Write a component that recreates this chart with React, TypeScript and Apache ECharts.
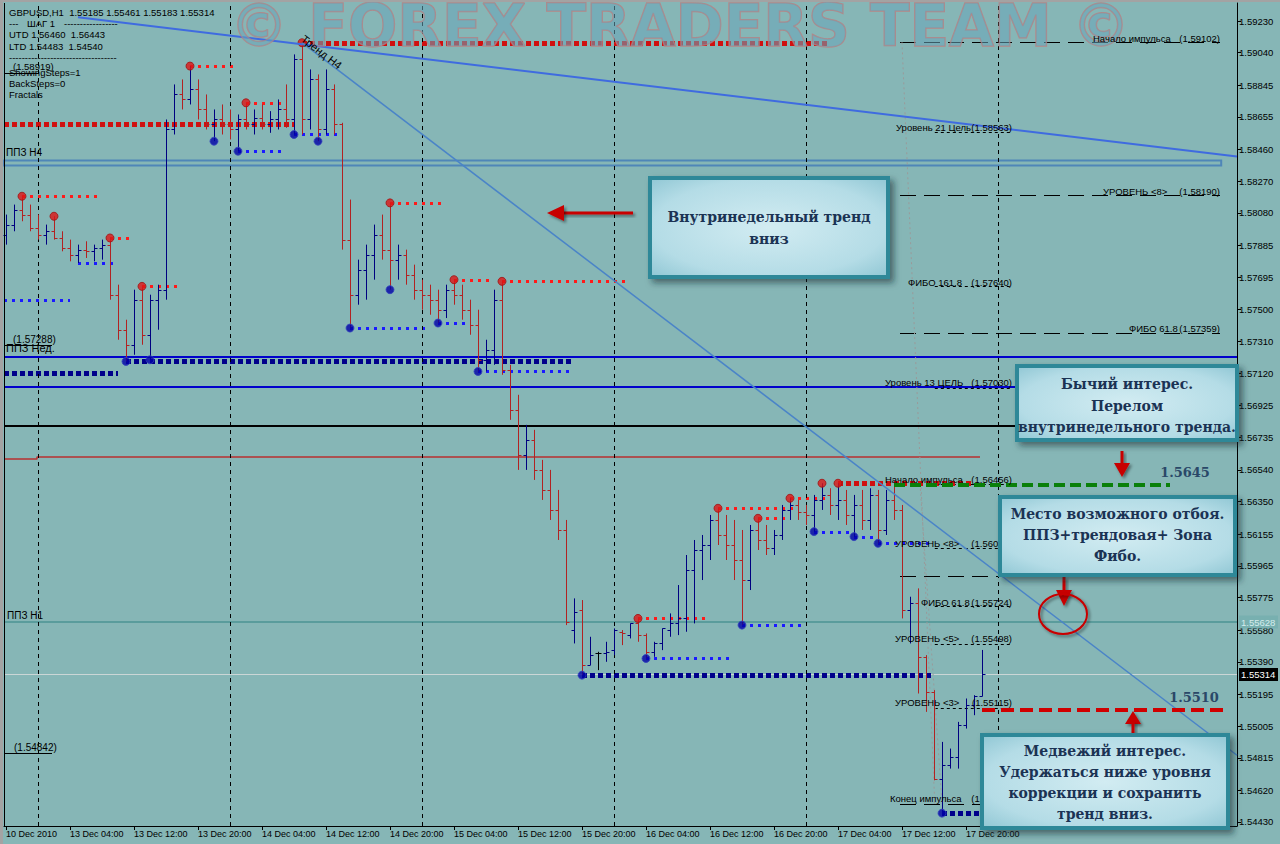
import React, { useEffect, useRef } from 'react';
import * as echarts from 'echarts';

// ---------- axes ----------
const xLabels = ['10 Dec 2010', '13 Dec 04:00', '13 Dec 12:00', '13 Dec 20:00', '14 Dec 04:00', '14 Dec 12:00', '14 Dec 20:00', '15 Dec 04:00', '15 Dec 12:00', '15 Dec 20:00', '16 Dec 04:00', '16 Dec 12:00', '16 Dec 20:00', '17 Dec 04:00', '17 Dec 12:00', '17 Dec 20:00'];
const xLabelStep = 8;
const yTickValues = [1.5923, 1.5904, 1.58845, 1.58655, 1.5846, 1.5827, 1.5808, 1.57885, 1.57695, 1.575, 1.5731, 1.5712, 1.56925, 1.56735, 1.5654, 1.5635, 1.56155, 1.55965, 1.55775, 1.5558, 1.5539, 1.55195, 1.55005, 1.54815, 1.5462, 1.5443];
const yMin = 1.54406;
const yMax = 1.59338;
const xMin = -0.25;
const xMax = 153.875;
const daySeparators = [4, 28, 52, 76, 100, 124];

// ---------- GBPUSD H1 bars ----------
const opens = [
  1.5795, 1.5801, 1.5810, 1.5807, 1.5799, 1.5795, 1.5797, 1.5793, 1.5787, 1.5783,
  1.5786, 1.5785, 1.5787, 1.5789, 1.5759, 1.5738, 1.5729, 1.5756, 1.5735, 1.5756,
  1.5762, 1.5858, 1.5879, 1.5876, 1.5882, 1.5870, 1.5861, 1.5864, 1.5861, 1.5858,
  1.5864, 1.5861, 1.5865, 1.5861, 1.5864, 1.5870, 1.5864, 1.5900, 1.5864, 1.5888,
  1.5858, 1.5882, 1.5861, 1.5792, 1.5759, 1.5774, 1.5783, 1.5795, 1.5786, 1.5780,
  1.5783, 1.5771, 1.5762, 1.5759, 1.5756, 1.5750, 1.5762, 1.5759, 1.5750, 1.5741,
  1.5720, 1.5726, 1.5756, 1.5714, 1.5690, 1.5663, 1.5672, 1.5654, 1.5642, 1.5630,
  1.5618, 1.5558, 1.5570, 1.5537, 1.5544, 1.5544, 1.5546, 1.5557, 1.5555, 1.5562,
  1.5555, 1.5545, 1.5550, 1.5558, 1.5562, 1.5565, 1.5594, 1.5606, 1.5609, 1.5624,
  1.5615, 1.5609, 1.5600, 1.5588, 1.5618, 1.5612, 1.5607, 1.5615, 1.5630, 1.5633,
  1.5629, 1.5627, 1.5636, 1.5639, 1.5633, 1.5636, 1.5627, 1.5633, 1.5624, 1.5639,
  1.5618, 1.5636, 1.5630, 1.5570, 1.5574, 1.5542, 1.5521, 1.5469, 1.5477, 1.5482,
  1.5501, 1.5513, 1.55185,
];
const highs = [
  1.5807, 1.5813, 1.5818, 1.5813, 1.5807, 1.5801, 1.5806, 1.5797, 1.5792, 1.5789,
  1.5791, 1.5789, 1.5792, 1.5793, 1.5765, 1.5744, 1.5762, 1.5764, 1.5759, 1.5765,
  1.5864, 1.5885, 1.5888, 1.5896, 1.5888, 1.5879, 1.5870, 1.5873, 1.5870, 1.5867,
  1.5874, 1.5870, 1.5873, 1.5869, 1.5876, 1.5885, 1.5903, 1.5910, 1.5894, 1.5891,
  1.5894, 1.5885, 1.5862, 1.5816, 1.5780, 1.5789, 1.5801, 1.5807, 1.5814, 1.5789,
  1.5786, 1.5777, 1.5768, 1.5765, 1.5762, 1.5765, 1.5768, 1.5765, 1.5756, 1.5750,
  1.5732, 1.5762, 1.5767, 1.5717, 1.5699, 1.5681, 1.5678, 1.5660, 1.5654, 1.5642,
  1.5624, 1.5577, 1.5576, 1.5554, 1.5545, 1.5551, 1.5559, 1.5558, 1.5562, 1.5565,
  1.5556, 1.5551, 1.5559, 1.5568, 1.5585, 1.5603, 1.5612, 1.5615, 1.5627, 1.5631,
  1.5627, 1.5624, 1.5618, 1.5621, 1.5625, 1.5621, 1.5618, 1.5633, 1.5637, 1.5636,
  1.5633, 1.5639, 1.5646, 1.5643, 1.5646, 1.5642, 1.5639, 1.5642, 1.5643, 1.5642,
  1.5642, 1.5645, 1.5633, 1.5578, 1.5583, 1.5543, 1.5522, 1.5491, 1.5487, 1.5503,
  1.5517, 1.5519, 1.55461,
];
const lows = [
  1.5789, 1.5797, 1.5803, 1.5797, 1.5792, 1.5789, 1.5792, 1.5785, 1.5779, 1.5778,
  1.5781, 1.5779, 1.5780, 1.5756, 1.5732, 1.5719, 1.5723, 1.5729, 1.5720, 1.5738,
  1.5756, 1.5855, 1.5870, 1.5873, 1.5864, 1.5858, 1.5851, 1.5855, 1.5852, 1.5845,
  1.5858, 1.5855, 1.5858, 1.5856, 1.5858, 1.5859, 1.5855, 1.5855, 1.5858, 1.5851,
  1.5855, 1.5855, 1.5786, 1.5739, 1.5753, 1.5756, 1.5768, 1.5780, 1.5762, 1.5768,
  1.5765, 1.5756, 1.5750, 1.5747, 1.5742, 1.5745, 1.5753, 1.5744, 1.5735, 1.5713,
  1.5713, 1.5717, 1.5711, 1.5684, 1.5654, 1.5654, 1.5648, 1.5636, 1.5624, 1.5612,
  1.5561, 1.5550, 1.5531, 1.5537, 1.5534, 1.5539, 1.5543, 1.5549, 1.5553, 1.5551,
  1.5541, 1.5542, 1.5546, 1.5554, 1.5555, 1.5557, 1.5562, 1.5588, 1.5600, 1.5609,
  1.5600, 1.5588, 1.5561, 1.5582, 1.5606, 1.5603, 1.5603, 1.5612, 1.5624, 1.5624,
  1.5621, 1.5617, 1.5630, 1.5627, 1.5624, 1.5621, 1.5614, 1.5618, 1.5618, 1.5610,
  1.5615, 1.5624, 1.5565, 1.5550, 1.5520, 1.5509, 1.5468, 1.54483, 1.5475, 1.5475,
  1.5499, 1.5507, 1.55183,
];
const closes = [
  1.5801, 1.5810, 1.5807, 1.5799, 1.5795, 1.5797, 1.5793, 1.5787, 1.5783, 1.5786,
  1.5785, 1.5787, 1.5789, 1.5759, 1.5738, 1.5729, 1.5756, 1.5735, 1.5756, 1.5762,
  1.5858, 1.5879, 1.5876, 1.5882, 1.5870, 1.5861, 1.5864, 1.5861, 1.5858, 1.5864,
  1.5861, 1.5865, 1.5861, 1.5864, 1.5870, 1.5864, 1.5900, 1.5864, 1.5888, 1.5858,
  1.5882, 1.5861, 1.5792, 1.5759, 1.5774, 1.5783, 1.5795, 1.5786, 1.5780, 1.5783,
  1.5771, 1.5762, 1.5759, 1.5756, 1.5750, 1.5762, 1.5759, 1.5750, 1.5741, 1.5720,
  1.5726, 1.5756, 1.5714, 1.5690, 1.5663, 1.5672, 1.5654, 1.5642, 1.5630, 1.5618,
  1.5563, 1.5569, 1.5537, 1.5543, 1.5544, 1.5545, 1.5558, 1.5556, 1.5562, 1.5555,
  1.5545, 1.5550, 1.5559, 1.5562, 1.5565, 1.5594, 1.5606, 1.5609, 1.5624, 1.5615,
  1.5609, 1.5600, 1.5588, 1.5618, 1.5612, 1.5607, 1.5615, 1.5630, 1.5633, 1.5629,
  1.5627, 1.5636, 1.5639, 1.5633, 1.5636, 1.5627, 1.5633, 1.5624, 1.5639, 1.5618,
  1.5636, 1.5630, 1.5570, 1.5574, 1.5542, 1.5521, 1.5469, 1.5477, 1.5482, 1.5501,
  1.5513, 1.55185, 1.55314,
];

// ---------- fractals ----------
const upFractals = [2, 6, 13, 17, 23, 30, 37, 48, 56, 62, 79, 89, 94, 98, 102, 104];
const downFractals = [15, 18, 26, 29, 36, 39, 43, 48, 54, 59, 72, 80, 92, 101, 106, 109, 117];
// [startBar, endBar, price]
const upFractalLines = [[2, 12, 1.5818], [13, 16, 1.5793], [17, 22, 1.5764], [23, 29, 1.5896], [30, 35, 1.5874], [48, 55, 1.5814], [56, 61, 1.5768], [62, 78, 1.5767], [79, 88, 1.5565], [89, 99, 1.5631], [94, 98, 1.5625], [98, 103, 1.5637]];
const downFractalLines = [[-0.25, 8, 1.5756], [9, 14, 1.5778], [29, 35, 1.5845], [36, 42, 1.5855], [43, 53, 1.5739], [54, 58, 1.5742], [59, 71, 1.5713], [80, 91, 1.5541], [92, 100, 1.5561], [101, 106, 1.5617], [106, 109, 1.5614], [109, 116, 1.5610]];
const upSwingLines = [[-0.25, 36, 1.5861], [37, 103, 1.5910], [104, 121, 1.5646]];
const downSwingLines = [[-0.25, 14, 1.5712], [15, 71, 1.5719], [72, 116, 1.5531], [117, 122, 1.54483]];

// ---------- levels ----------
const refLines = [[-0.25, 4, 1.58919], [-0.25, 5.75, 1.57288], [-0.25, 5.75, 1.54842]];
const ppzWeek = [1.57218, 1.57038];
const blackLevel = 1.56804;
const ppzH1 = 1.55628;
const ppzH4Band = [1.58394, 1.58364];
const redStep = [[-0.25, 1.56606], [3.875, 1.56606], [3.875, 1.56618], [121.75, 1.56618]];
const upperTrend = [[9, 1.59252], [153.875, 1.58418]];
const steepTrend = [[37, 1.5910], [153.875, 1.5483]];
const fiboLongLevels = [1.59102, 1.5819, 1.57359, 1.55904];
const fiboShortLevels = [1.58563, 1.5764, 1.5703, 1.56456, 1.56072, 1.55724, 1.55498, 1.55115];
const impulseEnd = [[111.75, 125.75, 1.5454]];
const bullLevel = [[111, 145.5, 1.5645]];
const bearLevel = [[122, 152.4, 1.551]];
const fiboDiagonals = [[[112, 1.59102], [116.1, 1.5454]], [[114.25, 1.56456], [117, 1.5454]]];

// ---------- texts ----------
const infoLines = ['GBPUSD,H1  1.55185 1.55461 1.55183 1.55314', 'UTD 1.56460  1.56443', 'LTD 1.54483  1.54540'];
const fiboLabels = [
  ['Уровень 21 Цель', '(1.58563)'], ['Начало импульса', '(1.59102)'], ['УРОВЕНЬ <8>', '(1.58190)'],
  ['ФИБО 161.8', '(1.57640)'], ['ФИБО 61.8', '(1.57359)'], ['Уровень 13 ЦЕЛЬ', '(1.57030)'],
  ['Начало импульса', '(1.56456)'], ['УРОВЕНЬ <8>', '(1.56072)'], ['ФИБО 61.8', '(1.55724)'],
  ['УРОВЕНЬ <5>', '(1.55498)'], ['УРОВЕНЬ <3>', '(1.55115)'], ['Конец импульса', '(1.54540)'],
];
const boxTexts = [
  ['Внутринедельный тренд', 'вниз'],
  ['Бычий интерес.', 'Перелом', 'внутринедельного тренда.'],
  ['Место возможного отбоя.', 'ППЗ+трендовая+ Зона', 'Фибо.'],
  ['Медвежий интерес.', 'Удержаться ниже уровня', 'коррекции и сохранить', 'тренд вниз.'],
];

const UI = '"Liberation Sans", Arial, sans-serif';
const SERIF = '"DejaVu Serif", serif';

function segSeries(data: number[][], color: string, width: number, dash: number[] | null, z: number) {
  return {
    type: 'custom', silent: true, z, data, clip: false,
    renderItem: (_p: any, api: any) => {
      const a = api.coord([api.value(0), api.value(2)]);
      const b = api.coord([api.value(1), api.value(2)]);
      const y = Math.round(a[1]) + (width % 2 ? 0.5 : 0);
      return { type: 'line', shape: { x1: a[0], y1: y, x2: b[0], y2: y }, style: { stroke: color, lineWidth: width, lineDash: dash || undefined } };
    },
  };
}

function priceTag(price: number, bg: string, fg: string, lineColor: string, lineWidth: number) {
  return {
    type: 'custom', silent: true, z: 3, clip: false, data: [[price]],
    renderItem: (_p: any, api: any) => {
      const a = api.coord([xMin, api.value(0)]);
      const b = api.coord([xMax, api.value(0)]);
      const y = Math.round(a[1]) + (lineWidth % 2 ? 0.5 : 0);
      return {
        type: 'group', children: [
          { type: 'line', shape: { x1: a[0], y1: y, x2: b[0], y2: y }, style: { stroke: lineColor, lineWidth } },
          { type: 'rect', shape: { x: b[0] + 2, y: y - 6.5, width: 39, height: 13 }, style: { fill: bg } },
          { type: 'text', x: b[0] + 4, y: y, style: { text: Number(api.value(0)).toFixed(5), fill: fg, font: `9.5px ${UI}`, verticalAlign: 'middle', align: 'left' } },
        ],
      };
    },
  };
}

function shaft(x1: number, y1: number, x2: number, y2: number, color: string, sh: any) {
  const x = Math.min(x1, x2), y = Math.min(y1, y2);
  const w = Math.max(3, Math.abs(x2 - x1)), h = Math.max(3, Math.abs(y2 - y1));
  return { type: 'rect', z: 140, shape: { x: x1 === x2 ? x - 1.5 : x, y: y1 === y2 ? y - 1.5 : y, width: w, height: h }, style: { fill: color, ...sh } };
}

function buildGraphics() {
  const els: any[] = [];
  els.push({ type: 'rect', shape: { x: 0, y: 0, width: 3, height: 844 }, style: { fill: '#a3a3a3' }, z: 200 });
  els.push({ type: 'rect', shape: { x: 0, y: 0, width: 1280, height: 2 }, style: { fill: '#a3a3a3' }, z: 200 });
  els.push({ type: 'line', shape: { x1: 4.5, y1: 3, x2: 4.5, y2: 826 }, style: { stroke: '#000', lineWidth: 1 }, z: 10 });

  els.push({
    type: 'text', x: 680, y: 26, z: 60,
    style: { text: '© FOREX TRADERS TEAM ©', font: 'bold 58px "DejaVu Sans", sans-serif', fill: 'rgba(105,165,185,0.55)', stroke: 'rgba(195,120,120,0.75)', lineWidth: 1.5, align: 'center', verticalAlign: 'middle', shadowBlur: 3, shadowColor: 'rgba(40,60,70,0.5)', shadowOffsetX: 2, shadowOffsetY: 2 },
  });

  const t = (x: number, y: number, text: string, size = 9.5, extra: any = {}) => ({
    type: 'text', x, y, z: 80, style: { text, font: `${size}px ${UI}`, fill: '#000', align: 'left', verticalAlign: 'middle', ...extra },
  });
  els.push(t(9, 12, infoLines[0]));
  els.push(t(9, 23, '---'));
  els.push(t(27, 23, 'ШАГ 1'));
  els.push(t(64, 23, '-----------------'));
  els.push(t(9, 34, infoLines[1]));
  els.push(t(9, 46, infoLines[2]));
  els.push(t(9, 57, '----------------------------------'));
  els.push(t(13, 66, '(1.58919)'));
  els.push(t(9, 72, 'ShowingSteps=1'));
  els.push(t(9, 83, 'BackSteps=0'));
  els.push(t(9, 94, 'Fractals'));
  els.push(t(6, 152, 'ППЗ Н4', 10));
  els.push(t(13, 339, '(1.57288)', 10));
  els.push(t(6, 348, 'ППЗ Нед.', 11));
  els.push(t(7, 615, 'ППЗ Н1', 10));
  els.push(t(14, 747, '(1.54842)', 10));
  els.push({ type: 'text', x: 306, y: 33, rotation: -0.66, z: 80, style: { text: 'Тренд Н4', font: `11px ${UI}`, fill: '#000', align: 'left', verticalAlign: 'top' } });

  const fl: [number, number, number][] = [
    [896, 127, 1012], [1093, 38, 1220], [1103, 191, 1220], [908, 282, 1012], [1129, 328, 1220], [885, 382, 1012],
    [885, 479, 1012], [895, 543, 1012], [921, 602, 1012], [895, 638, 1012], [895, 702, 1012], [890, 798, 1012],
  ];
  fl.forEach(([x, y, xr], i) => {
    els.push(t(x, y, fiboLabels[i][0], 9.5));
    els.push(t(xr, y, fiboLabels[i][1], 9.5, { align: 'right' }));
  });

  const boxes: [number, number, number, number, number[]][] = [
    [650, 178, 238, 99, [217, 239]],
    [1017, 366, 220, 74, [384, 406, 427]],
    [1000, 497, 235, 78, [514, 535, 556]],
    [982, 735, 246, 93, [751, 772, 793, 814]],
  ];
  boxes.forEach(([x, y, w, h, ys], bi) => {
    els.push({
      type: 'rect', z: 150, shape: { x, y, width: w, height: h },
      style: {
        fill: new echarts.graphic.RadialGradient(0.5, 0.5, 0.75, [
          { offset: 0, color: '#d2ecf2' }, { offset: 0.65, color: '#b4dce6' }, { offset: 1, color: '#88c2d0' },
        ]),
        stroke: '#2f8898', lineWidth: 4, shadowBlur: 6, shadowOffsetX: 4, shadowOffsetY: 4, shadowColor: 'rgba(20,40,50,0.55)',
      },
    });
    boxTexts[bi].forEach((line, li) => {
      els.push({ type: 'text', z: 151, x: x + w / 2, y: ys[li], style: { text: line, font: `bold 14px ${SERIF}`, fill: '#1b3354', align: 'center', verticalAlign: 'middle' } });
    });
  });

  const red = '#c80000';
  const sh = { shadowBlur: 3, shadowOffsetX: 2, shadowOffsetY: 2, shadowColor: 'rgba(0,0,0,0.45)' };
  els.push(shaft(562, 213, 633, 213, red, sh));
  els.push({ type: 'polygon', z: 140, shape: { points: [[547, 213], [564, 205], [564, 221]] }, style: { fill: red, ...sh } });
  els.push(shaft(1122, 451, 1122, 465, red, sh));
  els.push({ type: 'polygon', z: 140, shape: { points: [[1114, 463], [1130, 463], [1122, 477]] }, style: { fill: red, ...sh } });
  els.push(shaft(1064, 577, 1064, 592, red, sh));
  els.push({ type: 'polygon', z: 140, shape: { points: [[1056, 590], [1072, 590], [1064, 606]] }, style: { fill: red, ...sh } });
  els.push({ type: 'polygon', z: 140, shape: { points: [[1133, 711], [1125, 724], [1141, 724]] }, style: { fill: red, ...sh } });
  els.push(shaft(1133, 722, 1133, 735, red, sh));
  els.push({ type: 'ellipse', z: 140, shape: { cx: 1063, cy: 614, rx: 24, ry: 20 }, style: { fill: 'none', stroke: red, lineWidth: 2, ...sh } });

  els.push({ type: 'text', z: 140, x: 1185, y: 472, style: { text: '1.5645', font: `bold 13px ${SERIF}`, fill: '#2a4868', align: 'center', verticalAlign: 'middle', ...sh, shadowColor: 'rgba(0,0,0,0.3)' } });
  els.push({ type: 'text', z: 140, x: 1194, y: 697, style: { text: '1.5510', font: `bold 13px ${SERIF}`, fill: '#2a4868', align: 'center', verticalAlign: 'middle', ...sh, shadowColor: 'rgba(0,0,0,0.3)' } });
  return els;
}

function buildOption() {
  const bars = opens.map((o, i) => [i, o, highs[i], lows[i], closes[i]]);
  const xLabelIdx = xLabels.map((_, i) => i * xLabelStep);
  const lastClose = closes[closes.length - 1];
  return {
    animation: false,
    backgroundColor: '#86b6b6',
    grid: { left: 4, right: 43, top: 3, bottom: 18, containLabel: false },
    xAxis: {
      type: 'value', min: xMin, max: xMax,
      axisLine: { show: true, onZero: false, lineStyle: { color: '#000', width: 1 } },
      axisTick: { show: true, customValues: xLabelIdx, length: 4, lineStyle: { color: '#000' } },
      axisLabel: { customValues: xLabelIdx, formatter: (v: number) => xLabels[Math.round(v / xLabelStep)] ?? '', align: 'left', color: '#000', fontSize: 9, fontFamily: UI, margin: 3 },
      splitLine: { show: false },
    },
    yAxis: {
      type: 'value', position: 'right', min: yMin, max: yMax,
      axisLine: { show: true, onZero: false, lineStyle: { color: '#000', width: 1 } },
      axisTick: { show: true, customValues: yTickValues, length: 4, lineStyle: { color: '#000' } },
      axisLabel: { customValues: yTickValues, formatter: (v: number) => v.toFixed(5), color: '#000', fontSize: 9.5, fontFamily: UI, margin: 2 },
      splitLine: { show: false },
    },
    series: [
      {
        type: 'line', name: 'separators', data: [[xMin, yMin]], symbol: 'none', lineStyle: { width: 0 }, silent: true, z: 2,
        markLine: {
          silent: true, symbol: ['none', 'none'], label: { show: false },
          data: daySeparators.map((d) => ({ xAxis: d, lineStyle: { color: '#000', width: 1, type: [4, 4] } })),
        },
        markArea: {
          silent: true,
          data: [[{ xAxis: xMin, yAxis: ppzH4Band[0] }, { xAxis: 151.9, yAxis: ppzH4Band[1] }]],
          itemStyle: { color: 'rgba(0,0,0,0)', borderColor: '#4f86b8', borderWidth: 2 },
        },
      },
      segSeries(ppzWeek.map((p) => [xMin, xMax, p]), '#0000cc', 2, null, 2),
      segSeries([[xMin, xMax, blackLevel]], '#000', 2, null, 2),
      priceTag(lastClose, '#000', '#fff', '#cbd6d6', 1),
      priceTag(ppzH1, '#78b0b0', '#d4ecec', '#5a9c9c', 2),
      { type: 'line', data: redStep, symbol: 'none', silent: true, lineStyle: { color: '#b83030', width: 1.5 }, z: 2 },
      segSeries(refLines, '#000', 1, null, 3),
      segSeries(fiboLongLevels.map((p) => [111.75, 151.75, p]), '#000', 1, [16, 8], 3),
      segSeries(impulseEnd, '#000', 1, [16, 8], 3),
      segSeries(fiboShortLevels.map((p) => [116.1, 125.75, p]), '#000', 1, [3, 3], 3),
      ...fiboDiagonals.map((d) => ({ type: 'line', data: d, symbol: 'none', silent: true, lineStyle: { color: '#9a9a9a', width: 1, type: [2, 3] }, z: 3 })),
      segSeries(downSwingLines, '#00008b', 5, [5, 3], 4),
      segSeries(upSwingLines, '#d01010', 5, [5, 3], 4),
      segSeries(downFractalLines, '#1a1aff', 3, [3, 5], 4),
      segSeries(upFractalLines, '#ff1a1a', 3, [3, 5], 4),
      segSeries(bullLevel, '#0a800a', 4, [11, 5], 8),
      segSeries(bearLevel, '#d00000', 4, [13, 6], 8),
      {
        type: 'custom', name: 'GBPUSD', z: 5, silent: true, data: bars,
        renderItem: (_p: any, api: any) => {
          const i = api.value(0), o = api.value(1), h = api.value(2), l = api.value(3), c = api.value(4);
          const pH = api.coord([i, h]);
          const pL = api.coord([i, l]);
          const yo = Math.round(api.coord([i, o])[1]) + 0.5;
          const yc = Math.round(api.coord([i, c])[1]) + 0.5;
          const x = Math.round(pH[0]) + 0.5;
          const color = c > o ? '#000080' : c < o ? '#b22222' : '#000000';
          return {
            type: 'group', children: [
              { type: 'line', shape: { x1: x, y1: pH[1], x2: x, y2: pL[1] }, style: { stroke: color, lineWidth: 1 } },
              { type: 'line', shape: { x1: x - 3, y1: yo, x2: x, y2: yo }, style: { stroke: color, lineWidth: 1 } },
              { type: 'line', shape: { x1: x, y1: yc, x2: x + 3, y2: yc }, style: { stroke: color, lineWidth: 1 } },
            ],
          };
        },
      },
      { type: 'scatter', silent: true, z: 6, symbol: 'circle', symbolSize: 8, data: upFractals.map((i) => [i, highs[i]]), itemStyle: { color: '#dd1515', borderColor: '#a01010', borderWidth: 1 } },
      { type: 'scatter', silent: true, z: 6, symbol: 'circle', symbolSize: 8, data: downFractals.map((i) => [i, lows[i]]), itemStyle: { color: '#0000a8', borderColor: '#3344bb', borderWidth: 1 } },
      { type: 'line', data: upperTrend, symbol: 'none', silent: true, lineStyle: { color: '#3f6be0', width: 2 }, z: 7 },
      { type: 'line', data: steepTrend, symbol: 'none', silent: true, lineStyle: { color: '#4a84c8', width: 1.5 }, z: 7 },
    ],
    graphic: { elements: buildGraphics() },
  };
}

export default function App() {
  const ref = useRef<HTMLDivElement>(null);
  useEffect(() => {
    const chart = echarts.init(ref.current!, null, { renderer: 'svg' });
    chart.setOption(buildOption() as any);
    return () => chart.dispose();
  }, []);
  return <div ref={ref} style={{ position: 'fixed', left: 0, top: 0, width: 1280, height: 844, background: '#86b6b6' }} />;
}
